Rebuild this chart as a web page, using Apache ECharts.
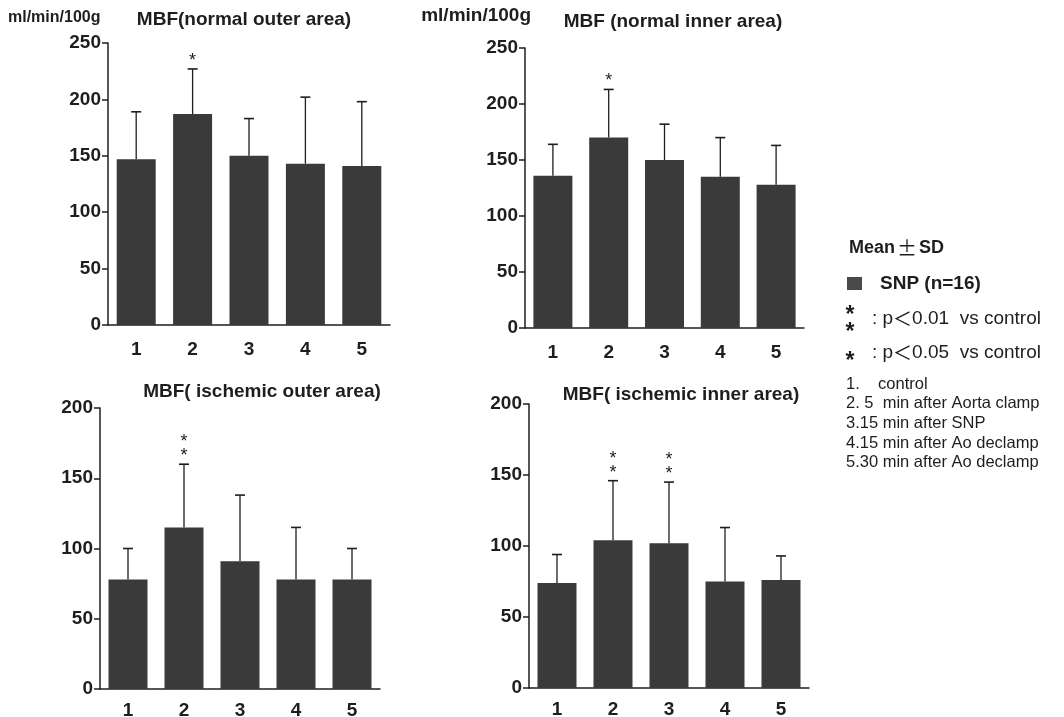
<html>
<head>
<title>MBF</title>
<script src="https://cdn.jsdelivr.net/npm/echarts@6/dist/echarts.min.js"></script>
</head>
<body style="margin:0;background:#fff;">
<div id="main" style="width:1064px;height:717px;"></div>
<script type="text/javascript">

// x categories (time points)
var cats = ['1', '2', '3', '4', '5'];

// MBF values, ml/min/100g (mean and SD)
var normOuterMean = [147, 187, 150, 143, 141];
var normOuterSd   = [42, 40, 33, 59, 57];
var normInnerMean = [136, 170, 150, 135, 128];
var normInnerSd   = [28, 43, 32, 35, 35];
var ischOuterMean = [78, 115, 91, 78, 78];
var ischOuterSd   = [22, 45, 47, 37, 22];
var ischInnerMean = [74, 104, 102, 75, 76];
var ischInnerSd   = [20, 42, 43, 38, 17];

// number of stars above each bar (1 = p<0.05, 2 = p<0.01)
var normOuterSig = [0, 1, 0, 0, 0];
var normInnerSig = [0, 1, 0, 0, 0];
var ischOuterSig = [0, 2, 0, 0, 0];
var ischInnerSig = [0, 2, 2, 0, 0];

var titles = ['MBF(normal outer area)', 'MBF (normal inner area)',
              'MBF( ischemic outer area)', 'MBF( ischemic inner area)'];
var yMax = [250, 250, 200, 200];

var legendLines = ['1.    control', '2. 5  min after Aorta clamp', '3.15 min after SNP',
                   '4.15 min after Ao declamp', '5.30 min after Ao declamp'];

var FONT = '"Liberation Sans", Arial, Helvetica, sans-serif';
var CJK = '"Noto Sans CJK JP", "Noto Sans CJK SC", sans-serif';
var INK = '#1e1e1e';
var BAR = '#3a3a3a';

var panels = [
    {mean: normOuterMean, sd: normOuterSd, sig: normOuterSig},
    {mean: normInnerMean, sd: normInnerSd, sig: normInnerSig},
    {mean: ischOuterMean, sd: ischOuterSd, sig: ischOuterSig},
    {mean: ischInnerMean, sd: ischInnerSd, sig: ischInnerSig}
];

var grids = [
    {left: 108, top: 43, width: 282, height: 282, outerBoundsMode: 'none'},
    {left: 525, top: 48, width: 279, height: 280, outerBoundsMode: 'none'},
    {left: 100, top: 408, width: 280, height: 281, outerBoundsMode: 'none'},
    {left: 529, top: 404, width: 280, height: 284, outerBoundsMode: 'none'}
];

var titlePos = [[244, 20], [673, 22], [262, 392], [681, 395]];

function errorItem(params, api) {
    var base = api.coord([api.value(0), api.value(1)]);
    var top = api.coord([api.value(0), api.value(2)]);
    return {
        type: 'group',
        children: [
            {type: 'line', shape: {x1: base[0], y1: base[1], x2: top[0], y2: top[1]},
             style: {stroke: INK, lineWidth: 1.3}},
            {type: 'line', shape: {x1: top[0] - 5, y1: top[1], x2: top[0] + 5, y2: top[1]},
             style: {stroke: INK, lineWidth: 1.6}}
        ]
    };
}

function starItem(params, api) {
    var n = api.value(2);
    var top = api.coord([api.value(0), api.value(1)]);
    var kids = [];
    for (var k = 0; k < n; k++) {
        kids.push({type: 'text', x: top[0], y: top[1] - 8 - k * 14,
                   style: {text: '*', fontSize: 18, fontFamily: FONT, fill: INK,
                           align: 'center', verticalAlign: 'middle'}});
    }
    return {type: 'group', children: kids};
}

var xAxes = [], yAxes = [], series = [];
panels.forEach(function (p, i) {
    xAxes.push({
        gridIndex: i, type: 'category', data: cats,
        axisLine: {lineStyle: {color: INK, width: 1.5}},
        axisTick: {alignWithLabel: true, length: 6, lineStyle: {color: INK, width: 1.5}},
        axisLabel: {color: INK, fontSize: 19, fontWeight: 'bold', fontFamily: FONT, margin: i < 2 ? 8 : 5}
    });
    yAxes.push({
        gridIndex: i, type: 'value', min: 0, max: yMax[i], interval: 50,
        splitLine: {show: false},
        axisLine: {show: true, lineStyle: {color: INK, width: 1.5}},
        axisTick: {show: true, length: 6, lineStyle: {color: INK, width: 1.5}},
        axisLabel: {color: INK, fontSize: 19, fontWeight: 'bold', fontFamily: FONT, margin: 7}
    });
    series.push({
        type: 'bar', xAxisIndex: i, yAxisIndex: i, data: p.mean, barWidth: 39,
        itemStyle: {color: BAR}, silent: true
    });
    var err = [], stars = [];
    p.mean.forEach(function (m, j) {
        err.push([j, m, m + p.sd[j]]);
        if (p.sig[j]) stars.push([j, m + p.sd[j], p.sig[j]]);
    });
    series.push({type: 'custom', xAxisIndex: i, yAxisIndex: i, data: err,
                 renderItem: errorItem, z: 5, silent: true});
    series.push({type: 'custom', xAxisIndex: i, yAxisIndex: i, data: stars,
                 renderItem: starItem, z: 5, silent: true});
});

var graphics = [];
titles.forEach(function (t, i) {
    graphics.push({type: 'text', x: titlePos[i][0], y: titlePos[i][1],
        style: {text: t, font: 'bold 19px ' + FONT, fill: INK, align: 'center', verticalAlign: 'middle'}});
});
graphics.push({type: 'text', x: 8, y: 18,
    style: {text: 'ml/min/100g', font: 'bold 16px ' + FONT, fill: INK, verticalAlign: 'middle'}});
graphics.push({type: 'text', x: 531, y: 16,
    style: {text: 'ml/min/100g', font: 'bold 19px ' + FONT, fill: INK, align: 'right', verticalAlign: 'middle'}});

// legend block on the right
graphics.push({type: 'text', x: 849, y: 248,
    style: {
        text: '{b|Mean}{pm|\u00b1}{b|SD}', verticalAlign: 'middle',
        rich: {
            b: {fontFamily: FONT, fontWeight: 'bold', fontSize: 18, fill: INK},
            pm: {fontFamily: CJK, fontWeight: 'normal', fontSize: 20, fill: INK, padding: [0, 2, 0, 2]}
        }
    }});
graphics.push({type: 'rect', shape: {x: 847, y: 277, width: 15, height: 13}, style: {fill: '#4a4a4a'}});
graphics.push({type: 'text', x: 880, y: 284,
    style: {text: 'SNP (n=16)', font: 'bold 19px ' + FONT, fill: INK, verticalAlign: 'middle'}});
graphics.push({type: 'text', x: 850, y: 316,
    style: {text: '*', font: 'bold 23px ' + FONT, fill: INK, align: 'center', verticalAlign: 'middle'}});
graphics.push({type: 'text', x: 850, y: 333,
    style: {text: '*', font: 'bold 23px ' + FONT, fill: INK, align: 'center', verticalAlign: 'middle'}});
graphics.push({type: 'text', x: 850, y: 362,
    style: {text: '*', font: 'bold 23px ' + FONT, fill: INK, align: 'center', verticalAlign: 'middle'}});

function pLine(y, val) {
    return {type: 'text', x: 872, y: y,
        style: {
            text: '{a|: p}{lt|\uff1c}{a|' + val + '  vs control}', verticalAlign: 'middle',
            rich: {
                a: {fontFamily: FONT, fontSize: 19, fill: INK},
                lt: {fontFamily: CJK, fontSize: 19, fill: INK}
            }
        }};
}
graphics.push(pLine(319, '0.01'));
graphics.push(pLine(353, '0.05'));

legendLines.forEach(function (s, k) {
    graphics.push({type: 'text', x: 846, y: 384 + k * 19.7,
        style: {text: s, font: '16.5px ' + FONT, fill: INK, verticalAlign: 'middle'}});
});

var myChart = echarts.init(document.getElementById('main'));
myChart.setOption({
    backgroundColor: '#ffffff',
    animation: false,
    grid: grids,
    xAxis: xAxes,
    yAxis: yAxes,
    series: series,
    graphic: graphics
});
</script>
</body>
</html>
